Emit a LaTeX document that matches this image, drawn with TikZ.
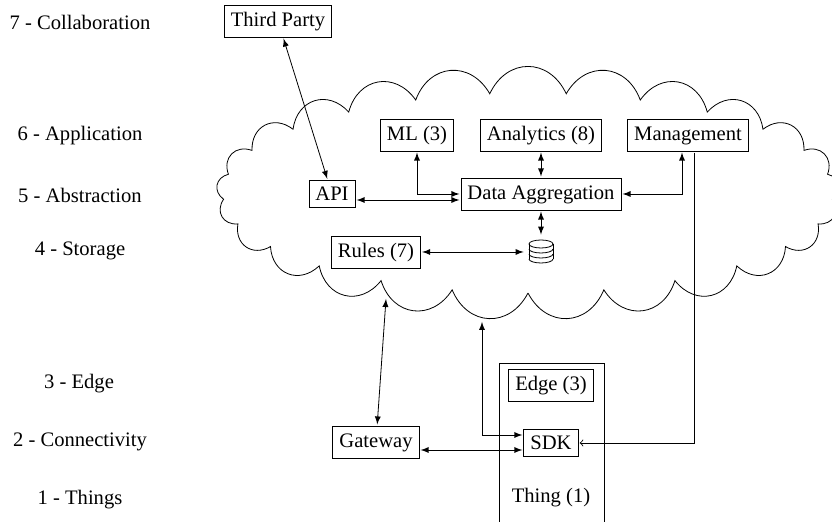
\documentclass[tikz,border=0pt]{standalone}
\usepackage{fontspec}
\setmainfont{Liberation Serif}
\tikzset{
	block/.style={draw, rectangle, inner xsep=3.25pt, inner ysep=3.4pt, outer sep=0.8pt},
	tall/.style={block, text height=7.4pt, text depth=2.2pt, inner ysep=3.2pt},
	layer/.style={inner sep=0pt},
	both/.style={<->, >=latex},
	every node/.append style={font=\fontsize{10.3}{12}\selectfont}
}
\begin{document}
\begin{tikzpicture}[x=0.5pt, y=-0.5pt]
	\useasboundingbox (0, 0) rectangle (832, 522);
	\node[layer] (L7)at(80, 22) {7 - Collaboration};
	\node[layer] (L6)at(80, 136) {6 - Application};
	\node[layer] (L5)at(80, 195) {5 - Abstraction};
	\node[layer] (L4)at(80, 251) {4 - Storage};
	\node[layer] (L3)at(79, 384) {3 - Edge};
	\node[layer] (L2)at(80, 442) {2 - Connectivity};
	\node[layer] (L1)at(80, 500) {1 - Things};
	\draw (528, 293) foreach \k in {1,...,25} { to[bend left=65, looseness=1.35] ({528+305*cos(90+14.4*\k)}, {193+100*sin(90+14.4*\k)}) };
	\node[tall] (Third)at(278, 21) {Third Party};
	\node[tall] (ML)at(417, 135) {ML (3)};
	\node[tall] (Analytics)at(541, 135) {Analytics (8)};
	\node[tall] (Management)at(688, 135) {Management};
	\node[tall] (Data)at(541, 194) {Data Aggregation};
	\node[block] (API)at(332, 194) {API};
	\node[tall] (Rules)at(376, 252) {Rules (7)};
	\node[minimum width=17pt, minimum height=17pt, inner sep=0pt] (DB)at(541, 252) {};
	\draw[shift={(DB)}] (0, -8) ellipse[x radius=6pt, y radius=2pt];
	\draw[shift={(DB)}] (-12, -8) -- (-12, 7) (12, -8) -- (12, 7);
	\foreach \ypos in {-3, 2, 7}
		\draw[shift={(DB)}] (-12, \ypos) arc[start angle=180, end angle=360, x radius=6pt, y radius=2pt];
	\node[tall] (Gateway)at(376, 442) {Gateway};
	\draw (499, 522) -- (499, 363) -- (604, 363) -- (604, 522);
	\node[layer] (Thing)at(551, 498) {Thing (1)};
	\node[tall] (Edge)at(551, 385) {Edge (3)};
	\node[block] (SDK)at(551, 443) {SDK};
	\coordinate (CloudA)at(386, 299);
	\coordinate (CloudB)at(482, 322);
	\draw[both] (Third) -- (API);
	\draw[both] ([yshift=-3pt]API.east) -- ([yshift=-3pt]Data.west);
	\draw[both] (ML) |- (Data);
	\draw[both] (Analytics) -- (Data);
	\draw[both] ([xshift=-3pt]Management.south) |- (Data);
	\draw[both] (Data) -- (DB);
	\draw[both] (Rules) -- (DB);
	\draw[both] (Gateway) -- (CloudA);
	\draw[both] (CloudB) |- ([yshift=4pt]SDK.west);
	\draw[both] ([yshift=-4pt]Gateway.east) -- ([yshift=-3.5pt]SDK.west);
	\draw[->] ([xshift=3pt]Management.south) |- (SDK);
\end{tikzpicture}
\end{document}
